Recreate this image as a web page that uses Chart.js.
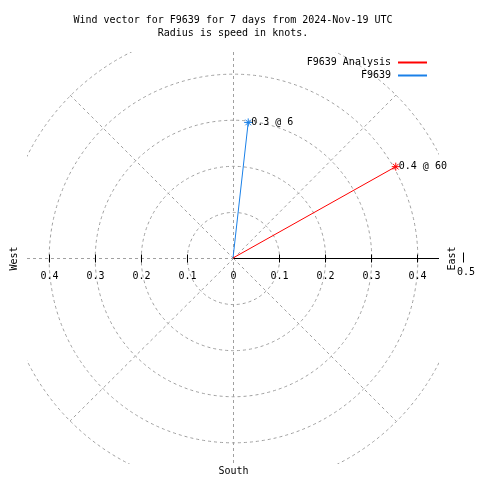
<!DOCTYPE html>
<html>
<head>
<meta charset="utf-8">
<script src="https://cdn.jsdelivr.net/npm/chart.js@4/dist/chart.umd.min.js"></script>
<style>
  html, body { margin: 0; padding: 0; background: #fff; }
  canvas { display: block; }
</style>
</head>
<body>
<canvas id="windChart" width="480" height="480"></canvas>
<script>
// vector data (speed in knots, direction in degrees from north)
const seriesNames = ["F9639 Analysis", "F9639"];
const seriesColors = ["#ff0000", "#1a80e8"];
const speeds = [0.405, 0.296];
const directions = [60.7, 6.4];
const vectorLabels = ["0.4 @ 60", "0.3 @ 6"];

// polar grid
const ringValues = [0.1, 0.2, 0.3, 0.4, 0.5];
const spokeAngles = [45, 135, 225, 315];
const spokeLength = 0.5;
const tickValues = [-0.4, -0.3, -0.2, -0.1, 0, 0.1, 0.2, 0.3, 0.4];
const tickLabels = ["0.4", "0.3", "0.2", "0.1", "0", "0.1", "0.2", "0.3", "0.4"];
const AXIS_MAX = 0.447;

const titleLines = [
  "Wind vector for F9639 for 7 days from 2024-Nov-19 UTC",
  "Radius is speed in knots."
];

const FONT = '10px "DejaVu Sans Mono", monospace';
const GRID = "#a0a0a0";

const toXY = (speed, dir) => {
  const rad = dir * Math.PI / 180;
  return { x: speed * Math.sin(rad), y: speed * Math.cos(rad) };
};

const polarGrid = {
  id: "polarGrid",
  beforeDatasetsDraw(chart) {
    const { ctx, chartArea: a, scales: { x, y } } = chart;
    const cx = Math.round(x.getPixelForValue(0)) + 0.5;
    const cy = Math.round(y.getPixelForValue(0)) + 0.5;
    const unit = x.getPixelForValue(1) - x.getPixelForValue(0);

    ctx.save();
    ctx.strokeStyle = GRID;
    ctx.lineWidth = 1;
    ctx.setLineDash([3, 3]);

    // rings, clipped to the plot box
    ctx.save();
    ctx.beginPath();
    ctx.rect(a.left, a.top, a.right - a.left, a.bottom - a.top);
    ctx.clip();
    ringValues.forEach((r) => {
      ctx.beginPath();
      ctx.arc(cx, cy, r * unit, 0, Math.PI * 2);
      ctx.stroke();
    });
    ctx.restore();

    // diagonal spokes
    spokeAngles.forEach((ang) => {
      const p = toXY(spokeLength, ang);
      ctx.beginPath();
      ctx.moveTo(cx, cy);
      ctx.lineTo(x.getPixelForValue(p.x), y.getPixelForValue(p.y));
      ctx.stroke();
    });

    // north-south and west spoke
    ctx.beginPath();
    ctx.moveTo(cx, a.top);
    ctx.lineTo(cx, a.bottom);
    ctx.moveTo(a.left, cy);
    ctx.lineTo(cx, cy);
    ctx.stroke();

    // east axis, solid
    ctx.setLineDash([]);
    ctx.strokeStyle = "#000";
    ctx.beginPath();
    ctx.moveTo(cx, cy);
    ctx.lineTo(a.right, cy);
    ctx.stroke();

    // ticks and labels
    ctx.font = FONT;
    ctx.fillStyle = "#000";
    ctx.textAlign = "center";
    ctx.textBaseline = "middle";
    tickValues.forEach((v, i) => {
      const px = Math.round(x.getPixelForValue(v)) + 0.5;
      if (v !== 0) {
        ctx.beginPath();
        ctx.moveTo(px, cy - 4);
        ctx.lineTo(px, cy + 4);
        ctx.stroke();
      }
      ctx.fillText(tickLabels[i], px, cy + 18);
    });

    // compass words
    ctx.save();
    ctx.translate(14, cy);
    ctx.rotate(-Math.PI / 2);
    ctx.fillText("West", 0, 0);
    ctx.restore();
    ctx.save();
    ctx.translate(452, cy);
    ctx.rotate(-Math.PI / 2);
    ctx.fillText("East", 0, 0);
    ctx.restore();
    ctx.beginPath();
    ctx.moveTo(463.5, cy - 6);
    ctx.lineTo(463.5, cy + 4);
    ctx.stroke();
    ctx.fillText("0.5", 466, cy + 14);
    ctx.fillText("South", cx, a.bottom + 7);

    ctx.restore();
  },
  afterDatasetsDraw(chart) {
    const { ctx } = chart;
    ctx.save();
    ctx.font = FONT;
    ctx.fillStyle = "#000";
    ctx.textBaseline = "middle";

    // labels at vector tips
    ctx.textAlign = "left";
    chart.data.datasets.forEach((ds, i) => {
      const tip = chart.getDatasetMeta(i).data[1];
      ctx.fillText(vectorLabels[i], tip.x + 3, tip.y);
    });

    // legend, text then line sample
    ctx.textAlign = "right";
    ctx.lineWidth = 2;
    seriesNames.forEach((name, i) => {
      const ly = 62 + i * 13;
      ctx.fillText(name, 391, ly);
      ctx.strokeStyle = seriesColors[i];
      ctx.beginPath();
      ctx.moveTo(398, ly + 0.5);
      ctx.lineTo(427, ly + 0.5);
      ctx.stroke();
    });
    ctx.restore();
  }
};

new Chart(document.getElementById("windChart"), {
  type: "scatter",
  data: {
    datasets: seriesNames.map((name, i) => ({
      label: name,
      data: [{ x: 0, y: 0 }, toXY(speeds[i], directions[i])],
      showLine: true,
      borderColor: seriesColors[i],
      borderWidth: 1,
      pointRadius: [0, 4],
      pointStyle: "star",
      pointBorderColor: seriesColors[i],
      pointBackgroundColor: seriesColors[i],
      pointBorderWidth: 1,
      fill: false
    }))
  },
  options: {
    responsive: false,
    animation: false,
    devicePixelRatio: 1,
    layout: { padding: { left: 27, right: 41, top: 0, bottom: 16 } },
    scales: {
      x: { type: "linear", min: -AXIS_MAX, max: AXIS_MAX, display: false },
      y: { type: "linear", min: -AXIS_MAX, max: AXIS_MAX, display: false }
    },
    plugins: {
      legend: { display: false },
      tooltip: { enabled: false },
      title: {
        display: true,
        text: titleLines,
        color: "#000",
        font: { family: '"DejaVu Sans Mono", monospace', size: 10, weight: "normal", lineHeight: 1.3 },
        padding: { top: 14, bottom: 12 }
      }
    }
  },
  plugins: [polarGrid]
});
</script>
</body>
</html>
